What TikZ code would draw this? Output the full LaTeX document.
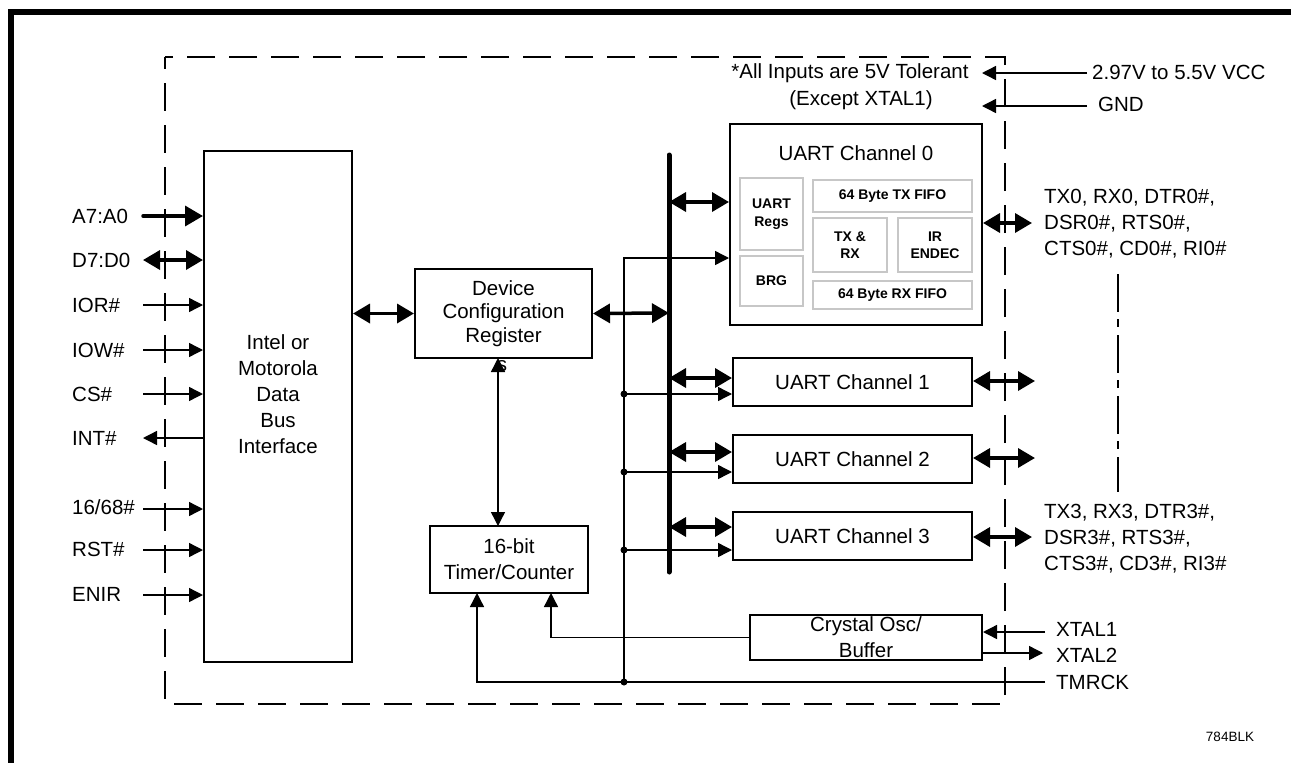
\documentclass[tikz,border=0pt]{standalone}
\usepackage{fontspec}
\setmainfont{Liberation Sans}
\usetikzlibrary{arrows.meta}
\begin{document}
\begin{tikzpicture}[x=1pt,y=-1pt,
 box/.style={draw, line width=2pt, inner sep=0pt},
 gbox/.style={draw=black!22, line width=1.5pt, inner sep=0pt, font=\bfseries\fontsize{14}{17.5}\selectfont, align=center},
 lbl/.style={inner sep=0pt, font=\fontsize{20.5}{26}\selectfont, align=left},
 clbl/.style={inner sep=0pt, font=\fontsize{20.5}{26}\selectfont, align=center},
 thinln/.style={line width=1.4pt},
 thinarr/.style={thinln, -{Triangle[length=14pt,width=14pt]}},
 thinarrs/.style={thinln, {Triangle[length=14pt,width=14pt]}-{Triangle[length=14pt,width=14pt]}},
 thickarr/.style={line width=3.5pt, line cap=round, -{Triangle[length=18pt,width=20pt]}},
 thickdbl/.style={line width=3.5pt, {Triangle[length=17pt,width=19pt]}-{Triangle[length=17pt,width=19pt]}},
 jdot/.style={circle, fill, inner sep=0pt, minimum size=7pt},
 dashbox/.style={line width=1.5pt, dash pattern=on 28pt off 14pt, dash phase=16pt},
 dashdot/.style={line width=1.5pt, dash pattern=on 38pt off 7pt on 8pt off 8pt}
]
\useasboundingbox (0,0) rectangle (1291,763);
% outer frame (top and left)
\draw[line width=6pt, line join=miter] (11,763) -- (11,12) -- (1291,12);
% dashed device boundary
\draw[dashbox] (165,57) rectangle (1005,704);

% main blocks
\node[box, minimum width=148pt, minimum height=511pt] (intel) at (278,406.5) {};
\node[clbl] (intelT) at (278,394) {Intel or\\Motorola\\Data\\Bus\\Interface};
\node[box, clbl, minimum width=177pt, minimum height=89pt, font=\fontsize{20.5}{23.5}\selectfont] (dcr) at (503.5,313.5) {Device\\Configuration\\Register};
\node[lbl] (dcrs) at (502,366) {s};
\node[box, clbl, minimum width=158pt, minimum height=67pt] (tmr) at (509,559.5) {16-bit\\Timer/Counter};

% UART channel 0
\node[box, minimum width=252pt, minimum height=201pt] (uart0) at (856,224.5) {};
\node[clbl] (uart0T) at (856,153) {UART Channel 0};
\node[gbox, minimum width=63pt, minimum height=72pt] (regs) at (771.5,214) {UART\\Regs};
\node[gbox, minimum width=63pt, minimum height=50pt] (brg) at (771.5,281) {BRG};
\node[gbox, minimum width=159pt, minimum height=32pt] (txf) at (892.5,196) {64 Byte TX FIFO};
\node[gbox, minimum width=74pt, minimum height=54pt] (txrx) at (850,245) {TX \&\\RX};
\node[gbox, minimum width=74pt, minimum height=54pt] (ir) at (935,245) {IR\\ENDEC};
\node[gbox, minimum width=159pt, minimum height=28pt] (rxf) at (892.5,295) {64 Byte RX FIFO};

% UART channels 1-3
\node[box, clbl, minimum width=239pt, minimum height=48pt] (uart1) at (852.5,382) {UART Channel 1};
\node[box, clbl, minimum width=239pt, minimum height=48pt] (uart2) at (852.5,459) {UART Channel 2};
\node[box, clbl, minimum width=239pt, minimum height=48pt] (uart3) at (852.5,536) {UART Channel 3};

% crystal oscillator
\node[box, minimum width=232pt, minimum height=45pt] (xtal) at (866,637.5) {};
\node[clbl] (xtalT) at (866,637) {Crystal Osc/\\Buffer};

% internal bus
\coordinate (busT) at (669,155);
\coordinate (busB) at (669,572);
\draw[line width=5pt, line cap=round] (busT) -- (busB);

% left-side pins
\node[lbl, anchor=west] (la7) at (72,216) {A7:A0};
\node[lbl, anchor=west] (ld7) at (72,260) {D7:D0};
\node[lbl, anchor=west] (lior) at (72,305) {IOR\#};
\node[lbl, anchor=west] (liow) at (72,350) {IOW\#};
\node[lbl, anchor=west] (lcs) at (72,394) {CS\#};
\node[lbl, anchor=west] (lint) at (72,438) {INT\#};
\node[lbl, anchor=west] (l16) at (72,507) {16/68\#};
\node[lbl, anchor=west] (lrst) at (72,549) {RST\#};
\node[lbl, anchor=west] (lenir) at (72,594) {ENIR};
\coordinate (pa7) at (143,216);
\coordinate (pd7) at (143,260);
\coordinate (pior) at (143,305);
\coordinate (piow) at (143,350);
\coordinate (pcs) at (143,394);
\coordinate (pint) at (143,438);
\coordinate (p16) at (143,509);
\coordinate (prst) at (143,550);
\coordinate (penir) at (143,595);
\draw[thickarr] (pa7) -- (pa7 -| intel.west);
\draw[thickdbl] (pd7) -- (pd7 -| intel.west);
\draw[thinarr] (pior) -- (pior -| intel.west);
\draw[thinarr] (piow) -- (piow -| intel.west);
\draw[thinarr] (pcs) -- (pcs -| intel.west);
\draw[thinarr] (pint -| intel.west) -- (pint);
\draw[thinarr] (p16) -- (p16 -| intel.west);
\draw[thinarr] (prst) -- (prst -| intel.west);
\draw[thinarr] (penir) -- (penir -| intel.west);

% intel <-> dcr <-> bus
\coordinate (bd) at (669,313);
\draw[thickdbl] (intel.east |- dcr.west) -- (dcr.west);
\draw[thickdbl] (dcr.east) -- (bd);

% dcr <-> timer
\coordinate (dtop) at (498,358);
\coordinate (dbot) at (498,526);
\draw[thinarrs] (dtop) -- (dbot);

% bus <-> UARTs
\coordinate (b0) at (669,202);
\coordinate (b1) at (669,378);
\coordinate (b2) at (669,452);
\coordinate (b3) at (669,527);
\draw[thickdbl] (b0) -- (b0 -| uart0.west);
\draw[thickdbl] (b1) -- (b1 -| uart1.west);
\draw[thickdbl] (b2) -- (b2 -| uart2.west);
\draw[thickdbl] (b3) -- (b3 -| uart3.west);

% timer clock / TMRCK distribution
\coordinate (ctltop) at (624,258);
\coordinate (j1) at (624,394);
\coordinate (j2) at (624,472);
\coordinate (j3) at (624,550);
\coordinate (j4) at (624,682);
\coordinate (tmrck) at (1045,682);
\coordinate (tmr1) at (477,593);
\coordinate (tmr2) at (551,593);
\draw[thinarr] (tmrck) -| (tmr1);
\draw[thinarr] (j4) -- (ctltop) -- (ctltop -| uart0.west);
\draw[thinarr] (j1) -- (j1 -| uart1.west);
\draw[thinarr] (j2) -- (j2 -| uart2.west);
\draw[thinarr] (j3) -- (j3 -| uart3.west);
\node[jdot] (d1) at (j1) {};
\node[jdot] (d2) at (j2) {};
\node[jdot] (d3) at (j3) {};
\node[jdot] (d4) at (j4) {};
\draw[thinarr] (xtal.west) -| (tmr2);

% crystal pins
\coordinate (x1) at (1045,632);
\coordinate (x2) at (1043,653);
\draw[thinarr] (x1) -- (x1 -| xtal.east);
\draw[thinarr] (x2 -| xtal.east) -- (x2);
\node[lbl, anchor=west] (lx1) at (1056,629) {XTAL1};
\node[lbl, anchor=west] (lx2) at (1056,655) {XTAL2};
\node[lbl, anchor=west] (ltm) at (1056,682) {TMRCK};

% UART serial pins
\coordinate (u0r) at (1032,223);
\coordinate (u1r) at (1035,381);
\coordinate (u2r) at (1035,458);
\coordinate (u3r) at (1032,537);
\draw[thickdbl] (u0r -| uart0.east) -- (u0r);
\draw[thickdbl] (u1r -| uart1.east) -- (u1r);
\draw[thickdbl] (u2r -| uart2.east) -- (u2r);
\draw[thickdbl] (u3r -| uart3.east) -- (u3r);
\node[lbl, anchor=west] (l0) at (1044,224) {TX0, RX0, DTR0\#,\\DSR0\#, RTS0\#,\\CTS0\#, CD0\#, RI0\#};
\node[lbl, anchor=west] (l3) at (1044,539) {TX3, RX3, DTR3\#,\\DSR3\#, RTS3\#,\\CTS3\#, CD3\#, RI3\#};
\coordinate (ddT) at (1118,274);
\coordinate (ddB) at (1118,492);
\draw[dashdot] (ddT) -- (ddB);

% power
\coordinate (vcc) at (1087,73);
\coordinate (vccE) at (982,73);
\coordinate (gnd) at (1087,106);
\coordinate (gndE) at (982,106);
\draw[thinarr] (vcc) -- (vccE);
\draw[thinarr] (gnd) -- (gndE);
\node[lbl, anchor=west] (lvcc) at (1092,72) {2.97V to 5.5V VCC};
\node[lbl, anchor=west] (lgnd) at (1098,104) {GND};
\node[clbl] (note1) at (850,73) {*All Inputs are 5V Tolerant};
\node[clbl] (note2) at (861,100) {(Except XTAL1)};

\node[inner sep=0pt, font=\fontsize{13.5}{16}\selectfont] (blk) at (1230,737) {784BLK};
\end{tikzpicture}
\end{document}
